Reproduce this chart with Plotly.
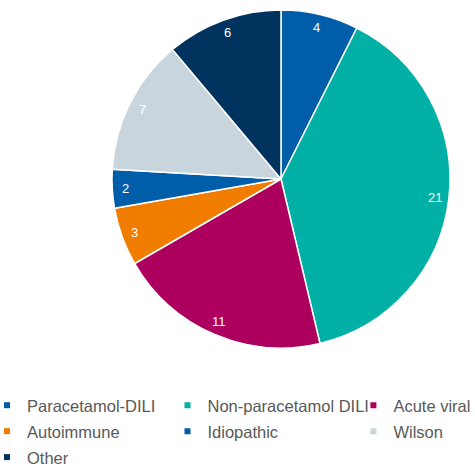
import math
import plotly.graph_objects as go

categories = ["Paracetamol-DILI", "Non-paracetamol DILI", "Acute viral", "Autoimmune",
              "Idiopathic", "Wilson", "Other"]
values = [4, 21, 11, 3, 2, 7, 6]
colors = ["#005DAA", "#00B0A4", "#AD005E", "#F07D00", "#005DAA", "#C8D5DC", "#00335E"]

W, H = 475, 468
CX, CY, R = 281, 179, 169          # pie centre and radius in pixels (layout)
LABEL_FRAC = 0.92                  # labels sit near the outer edge ("inside end")

fig = go.Figure()
fig.add_trace(go.Pie(
    labels=categories, values=values, sort=False, direction="clockwise", rotation=0,
    marker=dict(colors=colors, line=dict(color="white", width=1.5)),
    textinfo="none", showlegend=False,
    domain=dict(x=[(CX - R) / W, (CX + R) / W], y=[1 - (CY + R) / H, 1 - (CY - R) / H]),
    hoverinfo="label+value",
))

# value labels, positioned from the cumulative values
total = sum(values)
cum = 0
for v in values:
    mid = (cum + v / 2) / total * 2 * math.pi
    cum += v
    px = CX + LABEL_FRAC * R * math.sin(mid)
    py = CY - LABEL_FRAC * R * math.cos(mid)
    fig.add_annotation(x=px / W, y=1 - py / H, xref="paper", yref="paper",
                       xanchor="center", yanchor="middle",
                       text=str(v), showarrow=False,
                       font=dict(color="white", size=13, family="Liberation Sans, Arial"))

# legend: three columns (row-major order as in the original)
legend_x = [-0.0274, 0.3526, 0.7440]
for i, (name, col) in enumerate(zip(categories, colors)):
    lg = ["legend", "legend2", "legend3"][i % 3]
    fig.add_trace(go.Scatter(
        x=[None], y=[None], mode="markers", name=name, legend=lg, legendgroup=name,
        marker=dict(symbol="square", size=6, color=col), hoverinfo="skip",
    ))

leg_common = dict(orientation="v", y=0.171, yanchor="top", xanchor="left",
                  tracegroupgap=1.5, itemwidth=30, bgcolor="rgba(0,0,0,0)",
                  font=dict(size=16.5, color="#595959", family="Liberation Sans, Arial"))
fig.update_layout(
    width=W, height=H,
    margin=dict(l=0, r=0, t=0, b=0, autoexpand=False),
    paper_bgcolor="white", plot_bgcolor="white",
    xaxis=dict(visible=False), yaxis=dict(visible=False),
    legend=dict(x=legend_x[0], **leg_common),
    legend2=dict(x=legend_x[1], **leg_common),
    legend3=dict(x=legend_x[2], **leg_common),
)
fig.write_html("out.html", config={"displayModeBar": False},
               post_script="document.body.style.margin='0';")
